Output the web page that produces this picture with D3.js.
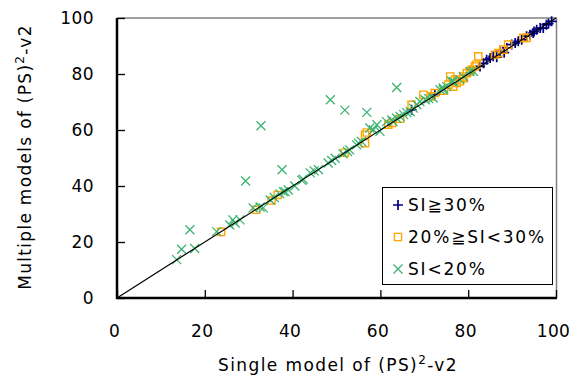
<!DOCTYPE html>
<html>
<head>
<meta charset="utf-8">
<script src="https://cdn.jsdelivr.net/npm/d3@7/dist/d3.min.js"></script>
<style>
  html, body { margin: 0; padding: 0; background: #fff; }
  svg { display: block; }
  text { font-family: "DejaVu Sans", Verdana, sans-serif; }
</style>
</head>
<body>
<svg id="chart" width="572" height="380"></svg>
<script>
// ---- Data ----
const xTicks = [0, 20, 40, 60, 80, 100];
const yTicks = [0, 20, 40, 60, 80, 100];

// SI >= 30%
const highX = [67.1, 72.4, 82.7, 84.2, 85.0, 85.7, 87.2, 88.8, 89.9, 90.7, 91.4, 92.2, 94.1, 94.8, 95.6, 96.4, 97.1, 97.8, 99.0, 83.5, 86.5, 88.2, 93.3, 95.0, 98.3];
const highY = [67.2, 72.6, 82.7, 85.1, 85.7, 86.3, 88.1, 89.3, 90.5, 91.1, 91.7, 92.2, 94.0, 94.6, 95.8, 96.4, 96.4, 97.6, 98.8, 83.8, 86.0, 87.6, 93.5, 95.2, 98.0];

// 20% <= SI < 30%
const midX = [23.7, 31.7, 35.2, 36.6, 51.9, 56.5, 56.5, 56.9, 61.8, 62.6, 67.1, 69.8, 71.7, 72.4, 75.9, 75.5, 76.6, 77.4, 78.1, 78.9, 79.7, 80.4, 80.8, 81.5, 82.3, 81.9, 86.1, 86.9, 88.0, 89.1, 92.6, 93.3, 74.5, 77.0, 79.0, 64.5];
const midY = [23.6, 31.5, 34.8, 36.8, 51.9, 55.3, 58.3, 59.1, 61.9, 62.5, 69.0, 72.6, 72.0, 73.2, 79.1, 76.2, 75.5, 76.8, 77.4, 79.1, 80.3, 80.9, 81.5, 82.7, 86.3, 83.3, 86.9, 87.5, 88.7, 90.5, 92.9, 92.9, 74.0, 78.0, 78.5, 64.0];

// SI < 20%
const lowX = [32.8, 48.6, 51.9, 56.9, 63.7, 37.6, 29.3, 16.6, 14.7, 13.6, 17.7,
  22.7, 25.7, 26.4, 28.0, 26.9, 31.0, 32.6, 33.3, 34.9, 35.8, 37.1, 38.3, 37.9, 39.0, 40.5, 42.1, 42.4, 44.0, 44.9, 45.9, 48.1, 48.9, 49.7, 51.5, 52.5, 53.0, 54.6, 55.0, 55.7, 57.6, 59.2, 58.4, 59.9, 62.9, 63.7, 61.4, 62.6, 64.5, 65.3, 66.0, 66.8, 67.5, 68.3, 69.0, 70.2, 71.0, 72.0, 73.6, 74.3, 74.3, 75.1, 76.2, 76.6, 78.1, 78.9, 80.4, 81.2];
const lowY = [61.5, 70.8, 67.1, 66.3, 75.2, 45.8, 41.8, 24.4, 17.4, 13.7, 17.7,
  23.7, 26.1, 27.9, 27.9, 26.8, 32.2, 32.5, 32.2, 35.0, 35.9, 37.2, 38.0, 38.0, 38.6, 40.0, 42.0, 42.4, 44.7, 45.4, 45.8, 48.2, 49.1, 49.9, 51.5, 52.3, 52.9, 54.7, 55.3, 55.9, 60.7, 61.9, 60.1, 59.5, 63.0, 64.2, 63.0, 63.6, 64.8, 65.5, 66.2, 66.5, 67.8, 69.0, 70.2, 70.8, 71.2, 71.4, 74.4, 75.0, 74.4, 75.5, 77.4, 77.3, 78.0, 79.1, 80.9, 80.9];

const seriesNames = ["SI\u226730%", "20%\u2267SI<30%", "SI<20%"];
const xTitle = "Single model of (PS)";
const yTitle = "Multiple models of (PS)";

// ---- Layout ----
const svg = d3.select("#chart");
const pL = 117, pR = 556, pT = 18, pB = 298;
const x = d3.scaleLinear().domain([0, 100]).range([pL, pR]);
const y = d3.scaleLinear().domain([0, 100]).range([pB, pT]);

const colors = { high: "#000080", mid: "#ffa500", low: "#3cb371" };

// frame: top and right grey
svg.append("line").attr("x1", pL).attr("x2", pR + 1).attr("y1", pT).attr("y2", pT)
  .attr("stroke", "#808080").attr("stroke-width", 1.5);
svg.append("line").attr("x1", pR + 0.5).attr("x2", pR + 0.5).attr("y1", pT).attr("y2", pB)
  .attr("stroke", "#808080").attr("stroke-width", 1.5);

// axes with inward ticks
const xAxis = d3.axisTop(x).tickValues(xTicks).tickSize(8).tickFormat("");
const yAxis = d3.axisRight(y).tickValues(yTicks).tickSize(8).tickFormat("");
const gx = svg.append("g").attr("transform", `translate(0,${pB})`).call(xAxis);
const gy = svg.append("g").attr("transform", `translate(${pL},0)`).call(yAxis);
[gx, gy].forEach(g => {
  g.select(".domain").remove();
  g.selectAll(".tick line").attr("stroke", "#000").attr("stroke-width", 1.3);
});
svg.append("line").attr("x1", pL - 1).attr("x2", pR + 1).attr("y1", pB).attr("y2", pB)
  .attr("stroke", "#000").attr("stroke-width", 2.5);
svg.append("line").attr("x1", pL).attr("x2", pL).attr("y1", pT).attr("y2", pB + 1)
  .attr("stroke", "#000").attr("stroke-width", 2.5);

// tick labels
svg.append("g").selectAll("text").data(xTicks).join("text")
  .attr("x", d => x(d) - 2.5).attr("y", 337).attr("text-anchor", "middle")
  .attr("font-size", 17).attr("letter-spacing", 0.4).text(d => d);
svg.append("g").selectAll("text").data(yTicks).join("text")
  .attr("x", 94).attr("y", d => y(d) + 6).attr("text-anchor", "end")
  .attr("font-size", 17).attr("letter-spacing", 0.4).text(d => d);

// axis titles
const xt = svg.append("text").attr("x", 338).attr("y", 371).attr("text-anchor", "middle")
  .attr("font-size", 17).attr("letter-spacing", 1.4);
xt.append("tspan").text(xTitle);
xt.append("tspan").attr("dy", -7).attr("font-size", 12).text("2");
xt.append("tspan").attr("dy", 7).text("-v2");

const yt = svg.append("text").attr("transform", `translate(31,157) rotate(-90)`).attr("text-anchor", "middle")
  .attr("font-size", 17).attr("letter-spacing", 1.3);
yt.append("tspan").text(yTitle);
yt.append("tspan").attr("dy", -7).attr("font-size", 12).text("2");
yt.append("tspan").attr("dy", 7).text("-v2");

// markers
function plusPath(cx, cy, r) { return `M${cx - r},${cy}H${cx + r}M${cx},${cy - r}V${cy + r}`; }
function crossPath(cx, cy, r) { return `M${cx - r},${cy - r}L${cx + r},${cy + r}M${cx - r},${cy + r}L${cx + r},${cy - r}`; }
function squarePath(cx, cy, r) { return `M${cx - r},${cy - r}H${cx + r}V${cy + r}H${cx - r}Z`; }

const plot = svg.append("g");
plot.selectAll(".hi").data(d3.range(highX.length)).join("path").attr("class", "hi")
  .attr("d", i => plusPath(x(highX[i]), y(highY[i]), 5))
  .attr("stroke", colors.high).attr("stroke-width", 1.7).attr("fill", "none");
plot.selectAll(".mid").data(d3.range(midX.length)).join("path").attr("class", "mid")
  .attr("d", i => squarePath(x(midX[i]), y(midY[i]), 3.6))
  .attr("stroke", colors.mid).attr("stroke-width", 1.4).attr("fill", "none");
plot.selectAll(".lo").data(d3.range(lowX.length)).join("path").attr("class", "lo")
  .attr("d", i => crossPath(x(lowX[i]), y(lowY[i]), 4.5))
  .attr("stroke", colors.low).attr("stroke-width", 1.3).attr("fill", "none");

// 1:1 line
svg.append("line").attr("x1", x(0)).attr("y1", y(0)).attr("x2", x(100)).attr("y2", y(100))
  .attr("stroke", "#000").attr("stroke-width", 1.2);

// legend
const lg = svg.append("g");
lg.append("rect").attr("x", 382.5).attr("y", 187.5).attr("width", 170).attr("height", 97)
  .attr("fill", "#fff").attr("stroke", "#000").attr("stroke-width", 1);
const rows = [205, 237, 269];
lg.append("path").attr("d", plusPath(398, rows[0], 5)).attr("stroke", colors.high).attr("stroke-width", 1.7).attr("fill", "none");
lg.append("path").attr("d", squarePath(398, rows[1], 3.6)).attr("stroke", colors.mid).attr("stroke-width", 1.4).attr("fill", "none");
lg.append("path").attr("d", crossPath(398, rows[2], 4.5)).attr("stroke", colors.low).attr("stroke-width", 1.3).attr("fill", "none");
lg.selectAll("text.lt").data(seriesNames).join("text").attr("class", "lt")
  .attr("x", 408).attr("y", (d, i) => rows[i] + 6).attr("font-size", 17).attr("letter-spacing", 1.8).text(d => d);
</script>
</body>
</html>
